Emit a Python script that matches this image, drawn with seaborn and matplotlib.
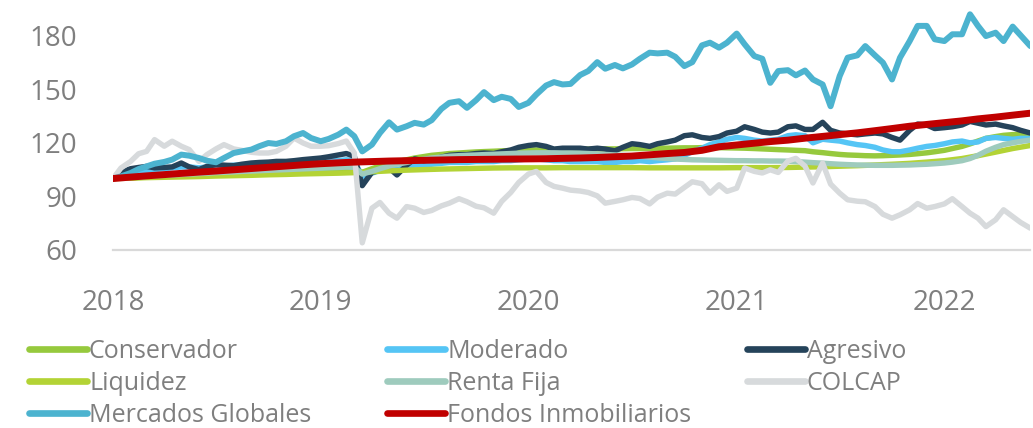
import matplotlib
matplotlib.use("Agg")
import matplotlib.pyplot as plt
import pandas as pd
import seaborn as sns

# ---------------- data ----------------
semi_dates = pd.date_range("2018-01-01", "2022-06-01", freq="SMS")   # 107 points
month_dates = pd.date_range("2018-01-01", "2022-06-01", freq="MS")   # 54 points

conservador = [
    100, 100.2, 100.4, 100.6, 100.8, 101, 101.2, 101.4, 101.6, 101.8, 102, 102.2, 102.4, 102.6,
    102.8, 103, 103.2, 103.4, 103.6, 103.8, 104, 104.2, 104.4, 104.6, 104.8, 105, 105.2, 105.4, 105.5,
    103.5, 105.5, 107, 108.5, 109.5, 110.5, 111.5, 112.3, 113, 113.5, 114, 114.3, 114.6, 114.9, 115.1,
    115.3, 115.5, 115.7, 115.8, 115.9, 116, 116.1, 116.2, 116.3, 116.3, 116.4,
    116.5, 116.5, 116.6, 116.6, 116.7, 116.8, 116.8, 116.9, 117, 117, 117.1, 117.2, 117.2, 117.3,
    117.3, 117.3, 117.2, 117.1, 117, 116.8, 116.6, 116.4, 116.2, 116, 115.8, 115.6,
    115, 114.5, 114, 113.5, 113.2, 113, 112.8, 112.7, 112.8, 113, 113.2, 113.5, 113.9, 114.4,
    115, 115.8, 116.8, 118, 119.4, 121, 122.5, 123.5, 124.2, 124.6, 124.8, 125,
]
moderado = [
    100, 101.5, 103, 104, 104.5, 105, 105.5, 106, 106.5, 106.5, 106, 106.5, 107, 107, 107.5, 107.5,
    108, 108, 108.5, 108.5, 108.5, 109, 109, 109.5, 109.5, 110, 110, 110.5, 110,
    101, 103, 104.5, 105.5, 105, 106.5, 107.5, 107.5, 108, 108.5, 109, 109, 109, 109.5, 109.5, 109.5,
    110, 110, 110.5, 111, 111, 110.5, 110, 110, 109.5, 109.5,
    109.5, 109.5, 109, 109, 109.5, 109.5, 110, 109.5, 110, 110.5, 111, 113, 115, 117, 119, 120.5,
    122, 123, 122.5, 121.5, 121, 121.5, 122, 124, 124.5, 124,
    120, 122, 121.5, 121, 120, 119, 118.5, 117.5, 116, 115, 115, 116, 117, 118, 118.5, 119.5,
    120.5, 121, 120, 120.5, 122.5, 123, 122.5, 122, 122.5, 122.5,
]
agresivo = [
    100, 103.5, 105.5, 106.2, 106.8, 106.0, 106.2, 106.5, 108.7, 106.5, 105.0, 106.8, 107.8, 107.5,
    107.2, 108.0, 108.7, 109.0, 109.2, 109.6, 109.6, 110.0, 110.6, 111.0, 111.5, 112.2, 113.2, 114.0,
    112.5, 96, 103.5, 104.5, 106.0, 102.0, 107.5, 111.0, 110.0, 110.6, 112.0, 113.0, 113.4, 113.4,
    114.0, 114.3, 114.0, 115.0, 116.0, 117.5, 118.5, 119.0, 118.0, 116.5, 117.0, 117.0, 117.0,
    116.5, 117.0, 116.5, 115.5, 117.5, 119.5, 119.0, 118.0, 119.5, 120.5, 121.5, 124.0, 124.5, 123.0,
    122.5, 123.5, 125.5, 126.5, 129.0, 127.5, 126.0, 125.5, 126.0, 129.0, 129.5, 127.5,
    127.5, 131.5, 127, 125.5, 125, 124.5, 125, 125.5, 125, 123, 121.5, 127, 130.5, 130, 128, 128.5,
    129, 130, 132, 131, 130, 130.5, 129.5, 128.5, 127, 125.5,
]
liquidez = [
    100, 100.2, 100.5, 100.7, 100.9, 101.1, 101.4, 101.6, 101.8, 102.1, 102.3, 102.6,
    102.8, 103.0, 103.3, 103.8, 104.3, 104.7, 105.0, 105.3, 105.5, 105.7, 105.9, 106.0,
    106.0, 106.0, 106.1, 106.1, 106.1, 106.1, 106.1, 106.0, 106.0, 106.0, 106.0, 106.0, 106.1, 106.1, 106.1,
    106.2, 106.4, 106.6, 106.9, 107.2, 107.6, 108.0, 108.5, 109.2, 110.0, 111.2, 112.8, 114.8, 116.8, 118.5,
]
renta_fija = [
    100, 100.3, 100.6, 100.9, 101.2, 101.5, 101.8, 102.0, 102.3, 102.5, 102.8, 103.0, 103.3, 103.5,
    103.7, 104.0, 104.2, 104.4, 104.6, 104.8, 105.0, 105.2, 105.4, 105.6, 105.8, 106.0, 106.2, 106.4, 106.3,
    102.5, 104, 105.5, 107, 108, 109, 110, 110.8, 111.5, 112, 112.5, 112.8, 113, 113.2, 113.4, 113.6,
    113.8, 114, 114.2, 114.3, 114.4, 114.4, 114.4, 114.3, 114.3, 114.2,
    114, 113.8, 113.5, 113.2, 113, 112.7, 112.4, 112, 111.6, 111.2, 110.9, 110.7, 110.5, 110.4, 110.3,
    110.2, 110.1, 110, 110, 109.9, 109.9, 109.8, 109.8, 109.7, 109.5, 109.2,
    108.9, 108.6, 108.3, 108, 107.8, 107.6, 107.5, 107.4, 107.4, 107.4, 107.5, 107.6, 107.8, 108,
    108.3, 108.7, 109.2, 110, 111.2, 113, 115.3, 117.5, 119, 120, 120.8, 121.5,
]
colcap = [
    100, 105.9, 109.6, 113.9, 115.2, 121.8, 118.1, 120.9, 118.1, 116.2, 109.6, 113.4, 116.6, 119.0,
    116.6, 115.8, 114.7, 114.3, 114.3, 115.2, 118.1, 122.7, 119.9, 118.1, 118.1, 118.4, 119.6, 121.0,
    114.3, 64, 83.4, 86.6, 80.6, 77.8, 84.3, 83.4, 81.0, 82.1, 84.7, 86.2, 88.7, 87.0, 84.5, 83.6,
    80.6, 87.2, 92.2, 97.8, 102.5, 104.0, 97.8, 95.6, 94.6, 93.5, 93.0,
    92.2, 90.3, 86.2, 87.2, 88.1, 89.4, 88.8, 85.8, 89.6, 91.8, 91.3, 95.0, 98.2, 97.1, 91.8, 96.5,
    92.8, 94.6, 105.9, 104.0, 103.1, 104.9, 103.4, 109.8, 111.3, 107.0,
    97.5, 108.7, 96.9, 91.8, 88.1, 87.3, 87.0, 84.3, 80.0, 77.8, 79.7, 82.5, 86.0, 83.4, 84.3, 85.8,
    88.7, 84.3, 80.6, 77.8, 73.1, 76.9, 82.5, 78.7, 75.4, 72.2,
]
mercados_globales = [
    100, 101.2, 103.1, 105.3, 106.8, 108.3, 109.3, 110.6, 113.4, 112.8, 111.5, 110.0, 109.1, 111.5,
    114.3, 115.2, 116.2, 118.1, 119.9, 119.4, 120.9, 123.7, 125.5, 122.7, 120.9, 122.2, 124.6, 127.4,
    123.7, 115.2, 119.0, 125.5, 131.5, 127.4, 129.3, 131.2, 130.2, 132.7, 139.0, 142.4, 143.3, 139.6,
    143.9, 148.4, 143.9, 145.8, 144.6, 140.1, 142.4, 147.1, 152.1, 154.0, 152.7, 153.0, 158.0,
    160.2, 165.2, 161.5, 163.6, 161.7, 163.9, 167.1, 170.5, 170.1, 170.5, 168.2, 163.0, 165.2, 174.6,
    176.1, 173.3, 176.1, 181.2, 175.2, 168.6, 167.1, 153.6, 160.2, 160.7, 157.8, 160.5,
    155.5, 152.7, 140.5, 157.4, 167.7, 169.0, 174.2, 169.0, 164.9, 155.5, 167.7, 177.0, 185.5, 185.5,
    178.0, 177.0, 180.8, 180.8, 192.0, 185.5, 179.8, 181.7, 177.0, 185.1, 180.2, 174.2,
]
fondos_inmobiliarios = [
    100, 100.8, 101.5, 102.2, 102.9, 103.6, 104.2, 104.9, 105.6, 106.3, 107.0, 107.7,
    108.3, 108.8, 109.2, 109.5, 109.8, 110.0, 110.2, 110.4, 110.6, 110.7, 110.8, 110.9,
    111.0, 111.1, 111.3, 111.5, 111.8, 112.2, 112.6, 113.3, 114.0, 114.6, 115.8, 117.8,
    118.8, 119.8, 120.7, 121.5, 122.6, 123.6, 124.6, 125.6, 126.8, 128.0, 129.3, 130.3,
    131.3, 132.3, 133.4, 134.4, 135.5, 136.6,
]

series_names = ["Conservador", "Moderado", "Agresivo", "Liquidez", "Renta Fija",
                "COLCAP", "Mercados Globales", "Fondos Inmobiliarios"]
series_values = [conservador, moderado, agresivo, liquidez, renta_fija,
                 colcap, mercados_globales, fondos_inmobiliarios]
series_dates = [semi_dates, semi_dates, semi_dates, month_dates, semi_dates,
                semi_dates, semi_dates, month_dates]
colors = ["#96c93d", "#55c5f5", "#25435a", "#b3d335", "#9ecbbd",
          "#d7dadc", "#4cb3cf", "#c00000"]
widths = [3.9, 3.9, 3.9, 3.9, 3.9, 3.9, 4.3, 5.0]

year_ticks = [2018, 2019, 2020, 2021, 2022]
y_ticks = [60, 90, 120, 150, 180]

# ---------------- plotting ----------------
sns.set_theme(style="white")
plt.rcParams["font.family"] = ["Open Sans", "DejaVu Sans"]
plt.rcParams["ytick.major.pad"] = 26
plt.rcParams["xtick.major.pad"] = 28
text_gray = "#7f7f7f"

fig = plt.figure(figsize=(10.33, 4.28), dpi=100)
ax = fig.add_axes([0.1094, 0.416, 0.888, 0.584])

for name, vals, dts, col, lw in zip(series_names, series_values, series_dates, colors, widths):
    df = pd.DataFrame({"fecha": dts, "valor": vals})
    sns.lineplot(data=df, x="fecha", y="valor", ax=ax, color=col, linewidth=lw,
                 label=name, legend=False, solid_capstyle="round", solid_joinstyle="round")

ax.set_xlim(pd.Timestamp("2018-01-01"), pd.Timestamp("2022-06-01"))
ax.set_ylim(60, 200)
ax.set_xticks([pd.Timestamp(f"{y}-01-01") for y in year_ticks])
ax.set_xticklabels([str(y) for y in year_ticks])
ax.set_yticks(y_ticks)
ax.set_yticklabels([str(v) for v in y_ticks])
ax.set_xlabel("")
ax.set_ylabel("")
ax.tick_params(axis="both", length=0, labelsize=20, colors=text_gray)
ax.tick_params(axis="y", pad=26)
ax.tick_params(axis="x", pad=28)
for s in ["top", "right", "left"]:
    ax.spines[s].set_visible(False)
ax.spines["bottom"].set_color("#d9d9d9")
ax.spines["bottom"].set_linewidth(1.6)
ax.grid(False)

handles, labels = ax.get_legend_handles_labels()
hmap = dict(zip(labels, handles))
columns = [["Conservador", "Liquidez", "Mercados Globales"],
           ["Moderado", "Renta Fija", "Fondos Inmobiliarios"],
           ["Agresivo", "COLCAP"]]
col_x = [29 / 1033, 387 / 1033, 747 / 1033]
for labs, xpos in zip(columns, col_x):
    leg = fig.legend([hmap[l] for l in labs], labs, loc="upper left",
                     bbox_to_anchor=(xpos, 1 - 339 / 428), frameon=False,
                     fontsize=18, labelcolor=text_gray, handlelength=2.32,
                     handletextpad=0.08, labelspacing=0.27, borderpad=0,
                     borderaxespad=0)
    for ln in leg.get_lines():
        ln.set_linewidth(4.8)
        ln.set_solid_capstyle("round")

fig.savefig("out.png", dpi=100)
